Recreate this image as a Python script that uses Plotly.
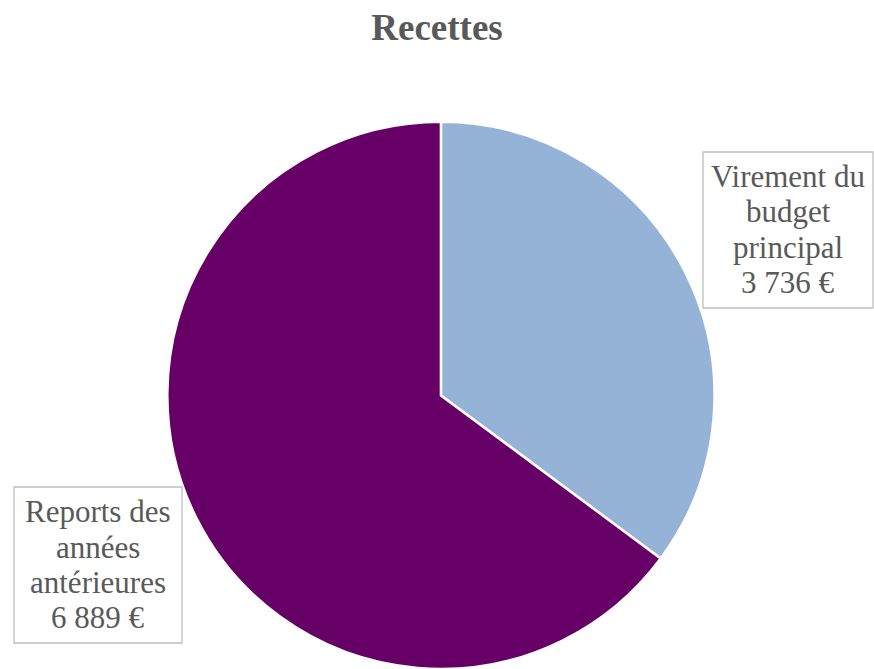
import plotly.graph_objects as go

labels = ["Virement du budget principal", "Reports des années antérieures"]
label_lines = [["Virement du", "budget", "principal"], ["Reports des", "années", "antérieures"]]
values = [3736, 6889]
colors = ["#95B3D7", "#660066"]

def fmt(v):
    return f"{v:,}".replace(",", " ") + " €"

W, H = 874, 669
FONT = "Liberation Serif, Times New Roman, serif"

fig = go.Figure(go.Pie(
    labels=labels, values=values, sort=False, direction="clockwise", rotation=0,
    marker=dict(colors=colors, line=dict(color="white", width=2.5)),
    textinfo="none", hoverinfo="label+value", showlegend=False,
    domain=dict(x=[0.190, 0.819], y=[0.0, 0.818]),
))

# label boxes: (left, top, right, bottom) in pixels
boxes = [(703, 152, 873, 308), (14, 487, 182, 643)]
baseline_offsets = [35, 70.5, 105.5, 140.5]
for lines, v, (l, t, r, b) in zip(label_lines, values, boxes):
    fig.add_shape(type="rect", xref="paper", yref="paper",
                  x0=l / W, x1=r / W, y0=1 - t / H, y1=1 - b / H,
                  line=dict(color="#BFBFBF", width=1.3), fillcolor="white", layer="above")
    cx = (l + r) / 2
    for txt, off in zip(lines + [fmt(v)], baseline_offsets):
        cy = t + off - 10.5
        fig.add_annotation(
            x=cx / W, y=1 - cy / H, xref="paper", yref="paper",
            text=txt, showarrow=False,
            font=dict(family=FONT, size=31, color="#595959"),
            xanchor="center", yanchor="middle", borderpad=0,
        )

fig.update_layout(
    width=W, height=H, margin=dict(l=0, r=0, t=0, b=0),
    paper_bgcolor="white", plot_bgcolor="white",
    title=dict(text="<b>Recettes</b>", x=0.5, xanchor="center", y=1 - 27 / H, yanchor="middle",
               font=dict(family=FONT, size=37, color="#595959")),
)

fig.write_html("out.html", config={"displayModeBar": False},
               post_script="document.body.style.margin='0';")
